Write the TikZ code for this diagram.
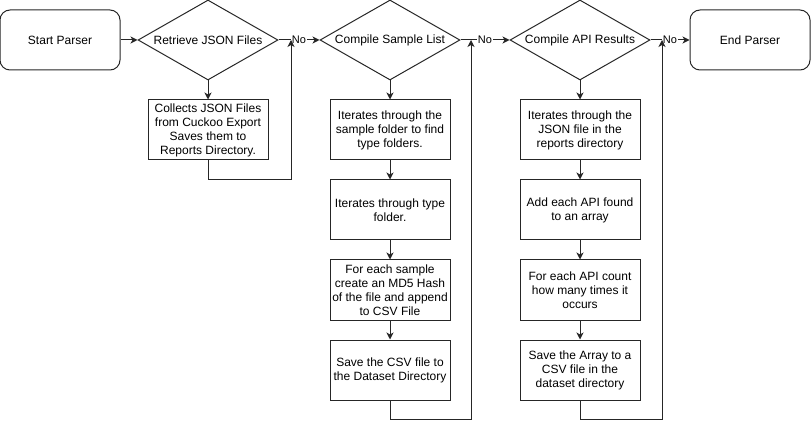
\documentclass[tikz,border=0pt]{standalone}
\usepackage{fontspec}
\setmainfont{Liberation Sans}
\usetikzlibrary{shapes.geometric,arrows.meta}
\begin{document}
\begin{tikzpicture}[x=1pt,y=-1pt,
  every node/.style={font=\fontsize{12}{14}\selectfont},
  line/.style={draw=black!85,line width=1pt},
  arr/.style={line,-{Stealth[length=7pt,width=7pt,inset=2pt]}},
  term/.style={line,rounded corners=10pt,minimum width=120pt,minimum height=60pt,inner sep=0pt},
  dec/.style={line,diamond,aspect=1.75,minimum width=140pt,minimum height=80pt,inner sep=1pt},
  proc/.style={line,minimum width=120pt,minimum height=60pt,inner sep=0pt,align=center},
  lbl/.style={fill=white,inner sep=0.5pt,font=\fontsize{11}{12}\selectfont}]
\useasboundingbox (0,0) rectangle (811,430);
\node[term] (start) at (60,40) {Start Parser};
\node[dec] (d1) at (208,40) {Retrieve JSON Files};
\node[dec] (d2) at (390,40) {Compile Sample List};
\node[dec] (d3) at (580,40) {Compile API Results};
\node[term] (end) at (750,40) {End Parser};

\node[proc] (b1) at (208,130) {Collects JSON Files\\from Cuckoo Export\\Saves them to\\Reports Directory.};
\node[proc] (b2a) at (390,130) {Iterates through the\\sample folder to find\\type folders.};
\node[proc] (b2b) at (390,210) {Iterates through type\\folder.};
\node[proc] (b2c) at (390,290) {For each sample\\create an MD5 Hash\\of the file and append\\to CSV File};
\node[proc] (b2d) at (390,370) {Save the CSV file to\\the Dataset Directory};
\node[proc] (b3a) at (580,130) {Iterates through the\\JSON file in the\\reports directory};
\node[proc] (b3b) at (580,210) {Add each API found\\to an array};
\node[proc] (b3c) at (580,290) {For each API count\\how many times it\\occurs};
\node[proc] (b3d) at (580,370) {Save the Array to a\\CSV file in the\\dataset directory};

\coordinate (j1) at (291,40);
\coordinate (j2) at (471,40);
\coordinate (j3) at (662,40);

\draw[arr] (start) -- (d1);
\draw[arr] (d1) -- node[lbl] {No} (d2);
\draw[arr] (d2) -- node[lbl] {No} (d3);
\draw[arr] (d3) -- node[lbl] {No} (end);

\draw[arr] (d1.south) -- (b1.north);
\draw[arr] (d2.south) -- (b2a.north);
\draw[arr] (b2a) -- (b2b);
\draw[arr] (b2b) -- (b2c);
\draw[arr] (b2c) -- (b2d);
\draw[arr] (d3.south) -- (b3a.north);
\draw[arr] (b3a) -- (b3b);
\draw[arr] (b3b) -- (b3c);
\draw[arr] (b3c) -- (b3d);

\draw[arr] (b1.south) -- ++(0,19) -| (j1);
\draw[arr] (b2d.south) -- ++(0,19) -| (j2);
\draw[arr] (b3d.south) -- ++(0,19) -| (j3);
\end{tikzpicture}
\end{document}
